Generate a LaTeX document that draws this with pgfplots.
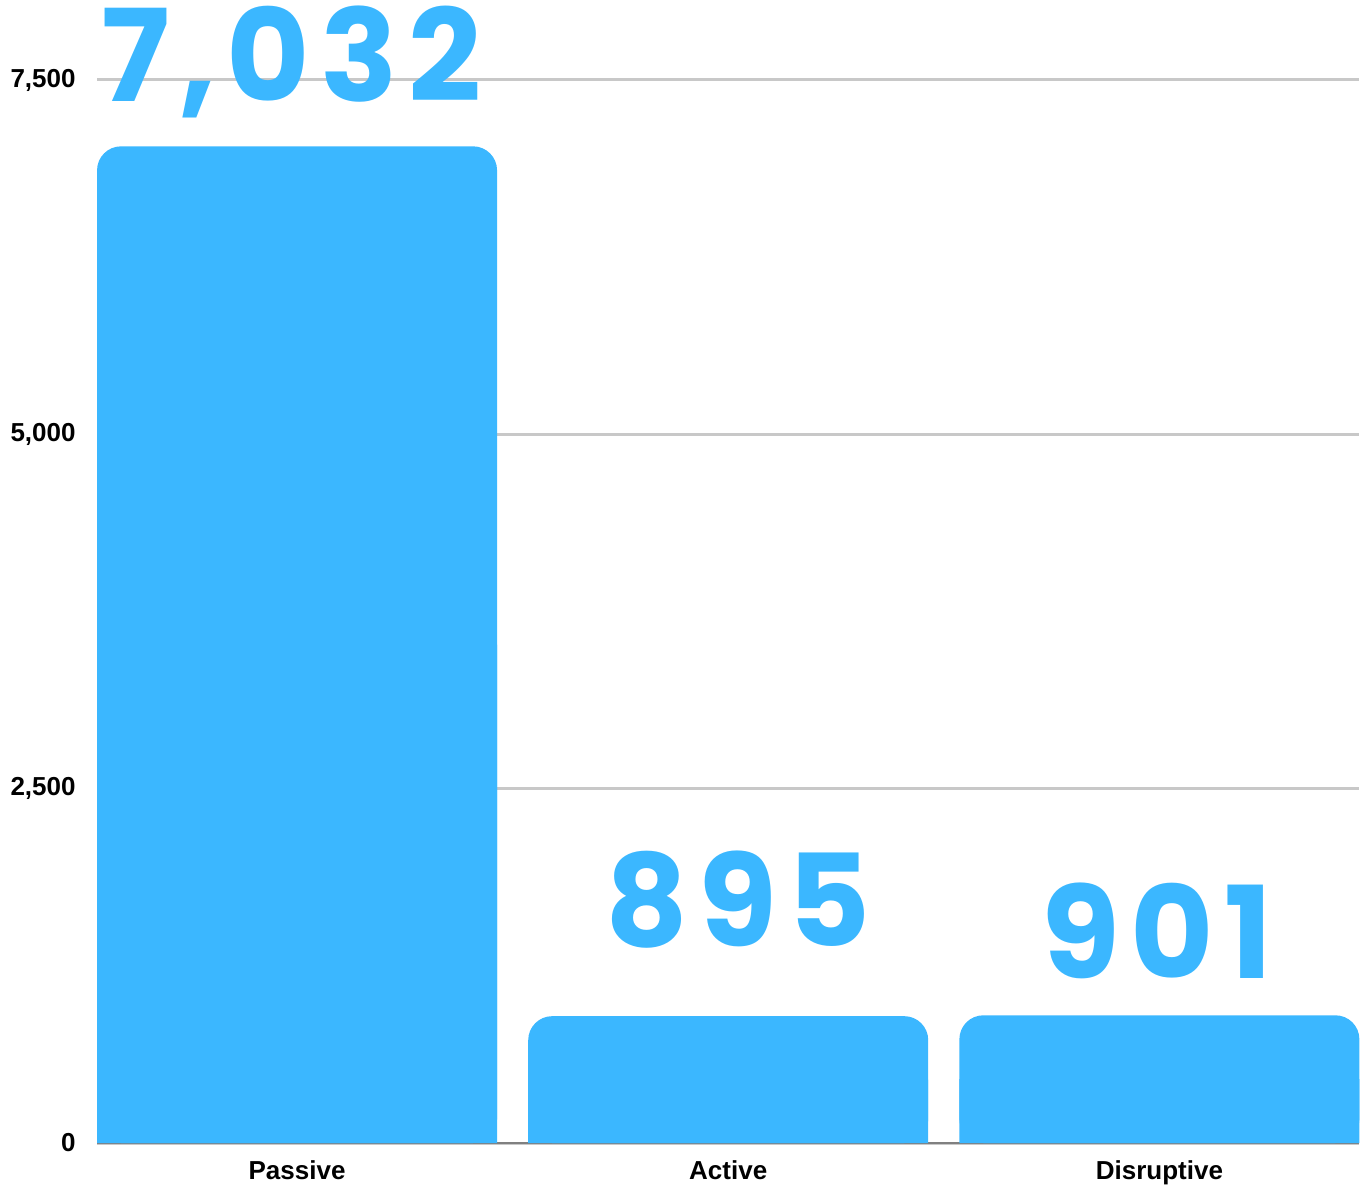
\documentclass[border=0pt]{standalone}
\usepackage{pgfplots}
\usepackage{pgfplotstable}
\pgfplotsset{compat=1.18}
\usepackage{fontspec}
\setmainfont{Liberation Sans}
\newfontfamily\bigfont{Poppins}[LetterSpace=8]
\definecolor{barblue}{RGB}{59,183,255}
\definecolor{gridgray}{RGB}{200,200,200}
\definecolor{axisgray}{RGB}{128,128,128}
\pgfplotstableread{
x v
0 7032
1 895
2 901
}\datatable
\begin{document}
\begin{tikzpicture}
\path[use as bounding box] (0,0) rectangle (682pt,592pt);
\begin{axis}[
  at={(48.5pt,20.5pt)}, anchor=south west,
  scale only axis, width=631pt, height=531.5pt,
  xmin=-0.464, xmax=2.463, ymin=0, ymax=7500,
  clip=false,
  axis x line*=bottom, axis y line*=left,
  axis line style={-},
  x axis line style={draw=axisgray, line width=1.2pt},
  y axis line style={draw=none},
  xtick={0,1,2}, xticklabels={Passive,Active,Disruptive},
  ytick={0,2500,5000,7500},
  major tick length=0pt,
  ymajorgrids, grid style={draw=gridgray, line width=1.5pt},
  /pgf/number format/1000 sep={,},
  /pgf/number format/assume math mode=true,
  ticklabel style={font=\bfseries\fontsize{13}{15}\selectfont, inner sep=0pt},
  yticklabel style={xshift=-10.5pt},
  xticklabel style={yshift=-8.5pt},
]
\addplot[ybar, bar shift=0pt, bar width=200pt, fill=barblue, draw=none, rounded corners=12pt] table[x=x, y=v] {\datatable};
\addplot[ybar, bar shift=0pt, bar width=200pt, fill=barblue, draw=none] table[x=x, y expr=\thisrow{v}*0.5] {\datatable};
\node[font=\bigfont\bfseries\fontsize{64}{70}\selectfont, text=barblue, anchor=base, inner sep=0pt, xshift=0.5pt] at (axis cs:-0.016,7345) {7,032};
\node[font=\bigfont\bfseries\fontsize{64}{70}\selectfont, text=barblue, anchor=base, inner sep=0pt, xshift=0.5pt] at (axis cs:1.02,1383) {895};
\node[font=\bigfont\bfseries\fontsize{64}{70}\selectfont, text=barblue, anchor=base, inner sep=0pt, xshift=-1pt] at (axis cs:2.0,1164) {901};
\end{axis}
\end{tikzpicture}
\end{document}
